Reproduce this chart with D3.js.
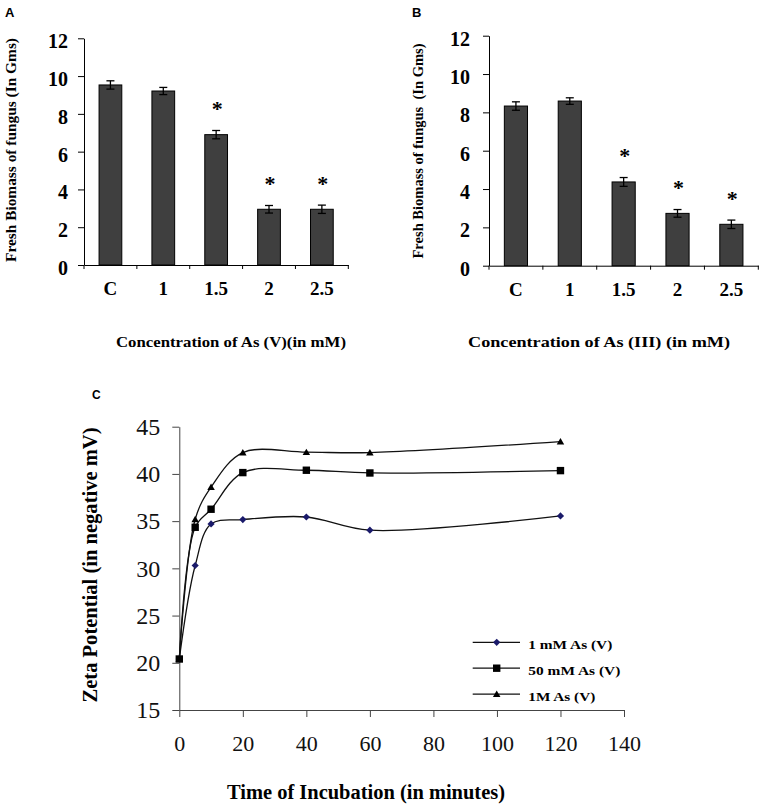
<!DOCTYPE html>
<html>
<head>
<meta charset="utf-8">
<script src="https://cdn.jsdelivr.net/npm/d3@7"></script>
<style>
  html, body { margin: 0; padding: 0; background: #fff; }
  svg { display: block; }
</style>
</head>
<body>
<svg id="chart" width="764" height="806"></svg>
<script>
// ---------- DATA ----------
const concCategories = ["C", "1", "1.5", "2", "2.5"];
const biomassAsV = [9.53, 9.21, 6.9, 2.95, 2.95];
const errorAsV = [0.22, 0.19, 0.22, 0.2, 0.22];
const signifAsV = [false, false, true, true, true];
const biomassAsIII = [8.33, 8.59, 4.37, 2.73, 2.16];
const errorAsIII = [0.22, 0.17, 0.23, 0.2, 0.22];
const signifAsIII = [false, false, true, true, true];
const biomassTicks = [0, 2, 4, 6, 8, 10, 12];

const incubationTimes = [0, 5, 10, 20, 40, 60, 120];
const zeta1mM = [20.4, 30.3, 34.7, 35.16, 35.44, 34.04, 35.55];
const zeta50mM = [20.4, 34.35, 36.26, 40.14, 40.39, 40.1, 40.35];
const zeta1M = [20.4, 35.2, 38.6, 42.26, 42.3, 42.26, 43.42];
const seriesNames = ["1 mM As (V)", "50 mM As (V)", "1M As (V)"];
const timeTicks = [0, 20, 40, 60, 80, 100, 120, 140];
const zetaTicks = [15, 20, 25, 30, 35, 40, 45];

// ---------- DRAW ----------
const SERIF = "'Liberation Serif', 'Times New Roman', Times, serif";
const SANS = "'Liberation Sans', Arial, sans-serif";
const svg = d3.select("#chart");
svg.append("rect").attr("width", 764).attr("height", 806).attr("fill", "#fff");

function panelLetter(txt, x, y, size) {
  svg.append("text").attr("class", "letter").attr("x", x).attr("y", y)
    .style("font-family", SANS)
    .style("font-weight", "bold").style("font-size", size + "px")
    .text(txt);
}

function barPanel(cfg) {
  const g = svg.append("g");
  const x = d3.scaleBand().domain(concCategories)
    .range([cfg.x0, cfg.x1]).paddingInner(0.57).paddingOuter(0.285);
  const y = d3.scaleLinear().domain([0, 12]).range([cfg.yBottom, cfg.yTop]);

  // y axis
  const ya = g.append("g").attr("transform", `translate(${cfg.x0},0)`)
    .call(d3.axisLeft(y).tickValues(biomassTicks).tickSize(6).tickSizeOuter(0).tickPadding(cfg.yPad));
  ya.selectAll("text").style("font-family", SERIF).style("font-size", "20px").style("font-weight", "bold")
    .attr("dy", "0.47em").attr("fill", "#000");
  ya.selectAll("line,path").attr("stroke", "#000");

  // x axis
  const xa = g.append("g").attr("transform", `translate(0,${cfg.yBottom})`)
    .call(d3.axisBottom(x).tickSize(0).tickSizeOuter(0).tickPadding(16.5));
  xa.selectAll("text").style("font-family", SERIF).style("font-size", "19px").style("font-weight", "bold").attr("fill", "#000");
  xa.select("path").attr("stroke", "#000");
  // tick marks between categories
  const bounds = d3.range(concCategories.length + 1).map(i => cfg.x0 + i * (cfg.x1 - cfg.x0) / concCategories.length);
  g.selectAll(".btick").data(bounds).join("line")
    .attr("x1", d => d).attr("x2", d => d)
    .attr("y1", cfg.yBottom).attr("y2", cfg.yBottom + 4)
    .attr("stroke", "#000");

  const rows = cfg.values.map((v, i) => ({ cat: concCategories[i], v, e: cfg.errors[i], s: cfg.signif[i] }));

  // bars
  g.selectAll(".bar").data(rows).join("rect")
    .attr("x", d => x(d.cat))
    .attr("width", x.bandwidth())
    .attr("y", d => y(d.v))
    .attr("height", d => y(0) - y(d.v))
    .attr("fill", "#3f3f3f").attr("stroke", "#000").attr("stroke-width", 1);

  // error bars
  const eb = g.selectAll(".err").data(rows).join("g");
  eb.each(function (d) {
    const cx = x(d.cat) + x.bandwidth() / 2;
    const s = d3.select(this);
    s.append("line").attr("x1", cx).attr("x2", cx).attr("y1", y(d.v - d.e)).attr("y2", y(d.v + d.e));
    s.append("line").attr("x1", cx - 4).attr("x2", cx + 4).attr("y1", y(d.v - d.e)).attr("y2", y(d.v - d.e));
    s.append("line").attr("x1", cx - 4).attr("x2", cx + 4).attr("y1", y(d.v + d.e)).attr("y2", y(d.v + d.e));
  });
  eb.selectAll("line").attr("stroke", "#000").attr("stroke-width", 1.3);

  // significance stars
  g.selectAll(".star").data(rows.filter(d => d.s)).join("text")
    .attr("x", d => x(d.cat) + x.bandwidth() / 2 + 1)
    .attr("y", d => y(d.v + d.e + 1.3))
    .attr("dy", "0.47em")
    .attr("text-anchor", "middle")
    .style("font-family", SERIF)
    .style("font-size", "22px").style("font-weight", "bold")
    .text("*");

  // axis titles
  g.append("text")
    .attr("transform", `translate(${cfg.ylabX},${cfg.ylabY}) rotate(-90)`)
    .attr("text-anchor", "middle")
    .attr("textLength", cfg.ylabLen).attr("lengthAdjust", "spacingAndGlyphs")
    .style("font-family", SERIF)
    .style("font-size", "15px").style("font-weight", "bold").style("white-space", "pre")
    .text(cfg.ylab);
  g.append("text")
    .attr("x", cfg.xlabX).attr("y", 347)
    .attr("text-anchor", "middle")
    .attr("textLength", cfg.xlabLen).attr("lengthAdjust", "spacingAndGlyphs")
    .style("font-family", SERIF)
    .style("font-size", "15px").style("font-weight", "bold")
    .text(cfg.xlab);
}

panelLetter("A", 5, 17, 13);
barPanel({
  x0: 84, x1: 348.3, yTop: 38.3, yBottom: 265, yPad: 10,
  values: biomassAsV, errors: errorAsV, signif: signifAsV,
  ylab: "Fresh Biomass of fungus (In Gms)", ylabX: 16, ylabY: 150, ylabLen: 224,
  xlab: "Concentration of As (V)(in mM)", xlabX: 231, xlabLen: 230
});

panelLetter("B", 412, 17, 13);
barPanel({
  x0: 489, x1: 758.3, yTop: 35.7, yBottom: 265.7, yPad: 13,
  values: biomassAsIII, errors: errorAsIII, signif: signifAsIII,
  ylab: "Fresh Biomass of fungus  (In Gms)", ylabX: 423, ylabY: 151, ylabLen: 215,
  xlab: "Concentration of As (III) (in mM)", xlabX: 599, xlabLen: 262
});

// ---------- Panel C ----------
panelLetter("C", 92, 399, 12);
const gc = svg.append("g");
const xc = d3.scaleLinear().domain([0, 140]).range([179.3, 624]);
const yc = d3.scaleLinear().domain([15, 45]).range([710, 426.7]);

const yac = gc.append("g").attr("transform", `translate(${xc(0)},0)`)
  .call(d3.axisLeft(yc).tickValues(zetaTicks).tickSize(7).tickSizeOuter(0).tickPadding(12));
yac.selectAll("text").style("font-family", SERIF).style("font-size", "24px").attr("fill", "#111");
yac.selectAll("line,path").attr("stroke", "#444");

const xac = gc.append("g").attr("transform", `translate(0,${yc(15)})`)
  .call(d3.axisBottom(xc).tickValues(timeTicks).tickSize(7).tickSizeOuter(0).tickPadding(18.4));
xac.selectAll("text").style("font-family", SERIF).style("font-size", "22px").attr("fill", "#111");
xac.selectAll("line,path").attr("stroke", "#444");

const seriesData = [zeta1mM, zeta50mM, zeta1M];
const line = d3.line().x(d => xc(d[0])).y(d => yc(d[1])).curve(d3.curveCatmullRom.alpha(0.5));
const markerPaths = [
  s => `M0,${-s}L${s},0L0,${s}L${-s},0Z`,
  s => `M${-s},${-s}H${s}V${s}H${-s}Z`,
  s => `M0,${-s * 1.05}L${s * 1.1},${s * 0.85}L${-s * 1.1},${s * 0.85}Z`
];
const markerSize = [3.6, 3.7, 3.4];
const markerFill = ["#1a1a6a", "#000", "#000"];

seriesData.forEach((vals) => {
  const pts = incubationTimes.map((t, i) => [t, vals[i]]);
  gc.append("path").attr("d", line(pts))
    .attr("fill", "none").attr("stroke", "#111").attr("stroke-width", 1.3);
});
[0, 2, 1].forEach(si => {
  const vals = seriesData[si];
  gc.selectAll(".m" + si).data(incubationTimes).join("path")
    .attr("transform", (t, i) => `translate(${xc(t)},${yc(vals[i])})`)
    .attr("d", markerPaths[si](markerSize[si]))
    .attr("fill", markerFill[si]);
});

// legend
const lg = gc.append("g");
seriesNames.forEach((name, i) => {
  const ry = 642.3 + i * 25.9;
  lg.append("line").attr("x1", 472.7).attr("x2", 520).attr("y1", ry).attr("y2", ry)
    .attr("stroke", "#111").attr("stroke-width", 1.3);
  lg.append("path").attr("transform", `translate(496.7,${ry})`)
    .attr("d", markerPaths[i](markerSize[i])).attr("fill", markerFill[i]);
  lg.append("text").attr("x", 528.3).attr("y", ry + 6.5)
    .attr("textLength", [84, 92, 67][i]).attr("lengthAdjust", "spacingAndGlyphs")
    .style("font-family", SERIF)
    .style("font-size", "13px").style("font-weight", "bold")
    .text(name);
});

gc.append("text")
  .attr("transform", "translate(97,565) rotate(-90)")
  .attr("text-anchor", "middle")
  .attr("textLength", 275).attr("lengthAdjust", "spacingAndGlyphs")
  .style("font-family", SERIF)
  .style("font-size", "20px").style("font-weight", "bold")
  .text("Zeta Potential (in negative mV)");
gc.append("text")
  .attr("x", 366).attr("y", 799)
  .attr("text-anchor", "middle")
  .attr("textLength", 278).attr("lengthAdjust", "spacingAndGlyphs")
  .style("font-family", SERIF)
  .style("font-size", "20px").style("font-weight", "bold")
  .text("Time of Incubation (in minutes)");
</script>
</body>
</html>
